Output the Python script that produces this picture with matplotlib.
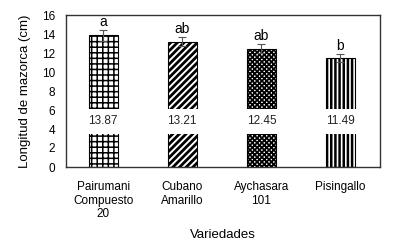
import matplotlib
matplotlib.use("Agg")
import matplotlib.pyplot as plt

categories = ["Pairumani\nCompuesto\n20", "Cubano\nAmarillo", "Aychasara\n101", "Pisingallo"]
values = [13.87, 13.21, 12.45, 11.49]
errors = [0.6, 0.5, 0.5, 0.4]
letters = ["a", "ab", "ab", "b"]
hatches = ["+++", "/////", "xxxxxxx", "||||"]
hatch_lws = [1.1, 2.0, 1.3, 1.8]
yticks = [0, 2, 4, 6, 8, 10, 12, 14, 16]

plt.rcParams['font.family'] = ['Liberation Sans', 'DejaVu Sans']

fig = plt.figure(figsize=(3.95, 2.43), dpi=100)
ax = fig.add_axes([66/395, 1-167/243, (380-66)/395, (167-15)/243])

x = list(range(len(categories)))
for i in x:
    plt.rcParams['hatch.linewidth'] = hatch_lws[i]
    ax.bar(i, values[i], width=0.37, color="white", edgecolor="black",
           hatch=hatches[i], linewidth=0.8, zorder=2)
    ax.errorbar(i, values[i], yerr=errors[i], color="#555555", capsize=3,
                elinewidth=0.8, capthick=0.8, zorder=3)
    ax.text(i, values[i] + errors[i] + 0.1, letters[i], ha="center", va="bottom",
            fontsize=10, zorder=4)
    ax.text(i, 4.8, f"{values[i]:.2f}", ha="center", va="center", fontsize=8.5,
            color="#222222", zorder=4,
            bbox=dict(facecolor="white", edgecolor="none", pad=4.5))

ax.set_xlim(-0.47, 3.5)
ax.set_ylim(0, 16)
ax.set_yticks(yticks)
ax.set_xticks(x)
ax.set_xticklabels(categories, fontsize=8.5)
ax.tick_params(axis="y", labelsize=8.5, length=0, pad=8)
ax.tick_params(axis="x", length=0, pad=10)
for s in ax.spines.values():
    s.set_color("#333333")
    s.set_linewidth(1.0)
ax.set_ylabel("Longitud de mazorca (cm)", fontsize=9.5, labelpad=8)
ax.set_xlabel("Variedades", fontsize=9.5, labelpad=6)

fig.savefig("out.png", dpi=100)
